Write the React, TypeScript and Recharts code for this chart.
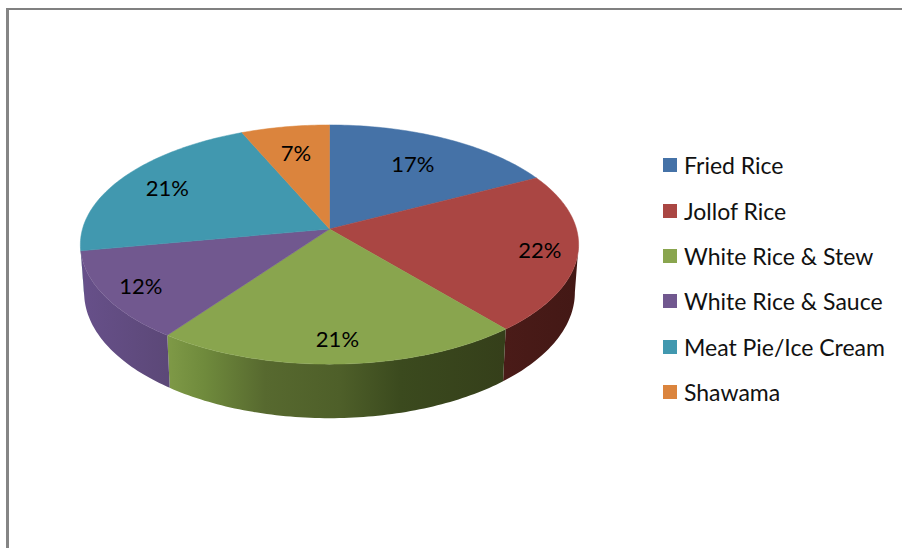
import { Legend, Pie, PieChart } from "recharts";

const CATEGORIES = [
  "Fried Rice",
  "Jollof Rice",
  "White Rice & Stew",
  "White Rice & Sauce",
  "Meat Pie/Ice Cream",
  "Shawama",
];
const SHARES = [17.4, 21.5, 21.1, 12.1, 21.4, 6.5];
const COLORS = ["#4572a7", "#aa4643", "#89a54e", "#71588f", "#4198af", "#db843d"];

// side wall shading per slice, [x, colour] across the plot
const SIDE_SHADES = [
  [[80, "#2c4566"], [579, "#2c4566"]],
  [[505, "#4a1b18"], [579, "#431815"]],
  [[166, "#7f9a47"], [205, "#6f8a3c"], [265, "#57692f"], [340, "#4e5f29"], [400, "#3b4a1e"], [505, "#353f1a"]],
  [[80, "#67508a"], [166, "#5c4878"]],
  [[80, "#2a6070"], [579, "#2a6070"]],
  [[80, "#8c5424"], [579, "#8c5424"]],
] as [number, string][][];

const LABEL_REACH = [0.7, 0.85, 0.83, 0.85, 0.78, 0.73];

const tableData = CATEGORIES.map((name, i) => ({ name, value: SHARES[i], fill: COLORS[i] }));

const CX = 329.5;
const CY = 229;
const RADIUS = 247;
const PERSPECTIVE = 0.13;
const FORESHORTEN = 0.476; // vertical radius / horizontal radius
const WALL = 47;
const EDGE = (Math.acos(-PERSPECTIVE) * 180) / Math.PI;

// circle angle (clockwise from top) -> picture position on the tilted disc
function project(cx: number, cy: number, r: number, theta: number, reach = 1) {
  const rad = (theta * Math.PI) / 180;
  const u = Math.sin(rad) * reach;
  const v = Math.cos(rad) * reach;
  const w = 1 + PERSPECTIVE * v;
  return { x: cx + (r * u) / w, y: cy - (r * FORESHORTEN * v) / w, w };
}

function arc(cx: number, cy: number, r: number, from: number, to: number) {
  const pts = [];
  const steps = Math.max(2, Math.ceil(Math.abs(to - from)));
  for (let i = 0; i <= steps; i++) {
    pts.push(project(cx, cy, r, from + ((to - from) * i) / steps));
  }
  return pts;
}

const toPath = (pts: { x: number; y: number }[]) =>
  pts.map((p, i) => `${i ? "L" : "M"}${p.x.toFixed(2)} ${p.y.toFixed(2)}`).join(" ");

function Slice(props: any) {
  const { cx, cy, outerRadius, startAngle, endAngle, fill, index } = props;
  const from = 90 - startAngle;
  const to = 90 - endAngle;
  const wallFrom = Math.max(from, EDGE);
  const wallTo = Math.min(to, 360 - EDGE);

  let wall = null;
  if (wallTo > wallFrom) {
    const upper = arc(cx, cy, outerRadius, wallFrom, wallTo);
    const lower = upper
      .map((p) => ({ x: cx + (p.x - cx) * 0.985, y: p.y + WALL / p.w }))
      .reverse();
    wall = (
      <path
        d={`${toPath(upper)} ${toPath(lower).replace("M", "L")} Z`}
        fill={`url(#side-${index})`}
      />
    );
  }

  return (
    <g>
      {wall}
      <path
        d={`M${cx} ${cy} ${toPath(arc(cx, cy, outerRadius, from, to)).replace("M", "L")} Z`}
        fill={fill}
        stroke={fill}
        strokeWidth={0.5}
      />
    </g>
  );
}

function sliceLabel(props: any) {
  const { cx, cy, outerRadius, midAngle, value, index } = props;
  const p = project(cx, cy, outerRadius, 90 - midAngle, LABEL_REACH[index]);
  return (
    <text
      x={p.x}
      y={p.y}
      textAnchor="middle"
      dominantBaseline="central"
      fontFamily="Lato, sans-serif"
      fontSize={22}
      fill="#000"
    >
      {Math.round(value)}%
    </text>
  );
}

function ChartLegend({ payload }: any) {
  return (
    <div>
      {(payload ?? []).map((entry: any) => (
        <div
          key={entry.value}
          style={{
            height: 45.4,
            display: "flex",
            alignItems: "center",
            fontFamily: "Lato, sans-serif",
            fontSize: 23,
            color: "#111",
            whiteSpace: "nowrap",
          }}
        >
          <span
            style={{ width: 14, height: 14, marginRight: 7, backgroundColor: entry.color }}
          />
          {entry.value}
        </div>
      ))}
    </div>
  );
}

export default function App() {
  return (
    <div
      style={{
        position: "absolute",
        left: 0,
        top: 0,
        width: 902,
        height: 548,
        overflow: "hidden",
        background: "#fff",
      }}
    >
      <div
        style={{
          position: "absolute",
          left: 6,
          top: 8,
          width: 920,
          height: 560,
          borderLeft: "3px solid #858585",
          borderTop: "2.5px solid #808080",
        }}
      />
      <PieChart
        width={902}
        height={548}
        margin={{ top: 0, right: 0, bottom: 0, left: 0 }}
        style={{ position: "absolute", left: 0, top: 0 }}
      >
        <defs>
          {SIDE_SHADES.map((shade, i) => (
            <linearGradient
              key={i}
              id={`side-${i}`}
              gradientUnits="userSpaceOnUse"
              x1={shade[0][0]}
              y1={0}
              x2={shade[shade.length - 1][0]}
              y2={0}
            >
              {shade.map(([x, color]) => (
                <stop
                  key={x}
                  offset={(x - shade[0][0]) / (shade[shade.length - 1][0] - shade[0][0])}
                  stopColor={color}
                />
              ))}
            </linearGradient>
          ))}
        </defs>
        <Pie
          data={tableData}
          dataKey="value"
          nameKey="name"
          cx={CX}
          cy={CY}
          outerRadius={RADIUS}
          startAngle={90}
          endAngle={-270}
          shape={Slice}
          label={sliceLabel}
          labelLine={false}
          isAnimationActive={false}
        />
        <Legend
          layout="vertical"
          align="right"
          verticalAlign="top"
          itemSorter={null}
          content={<ChartLegend />}
          wrapperStyle={{ left: 663, right: "auto", top: 142.5, width: 235 }}
        />
      </PieChart>
    </div>
  );
}
